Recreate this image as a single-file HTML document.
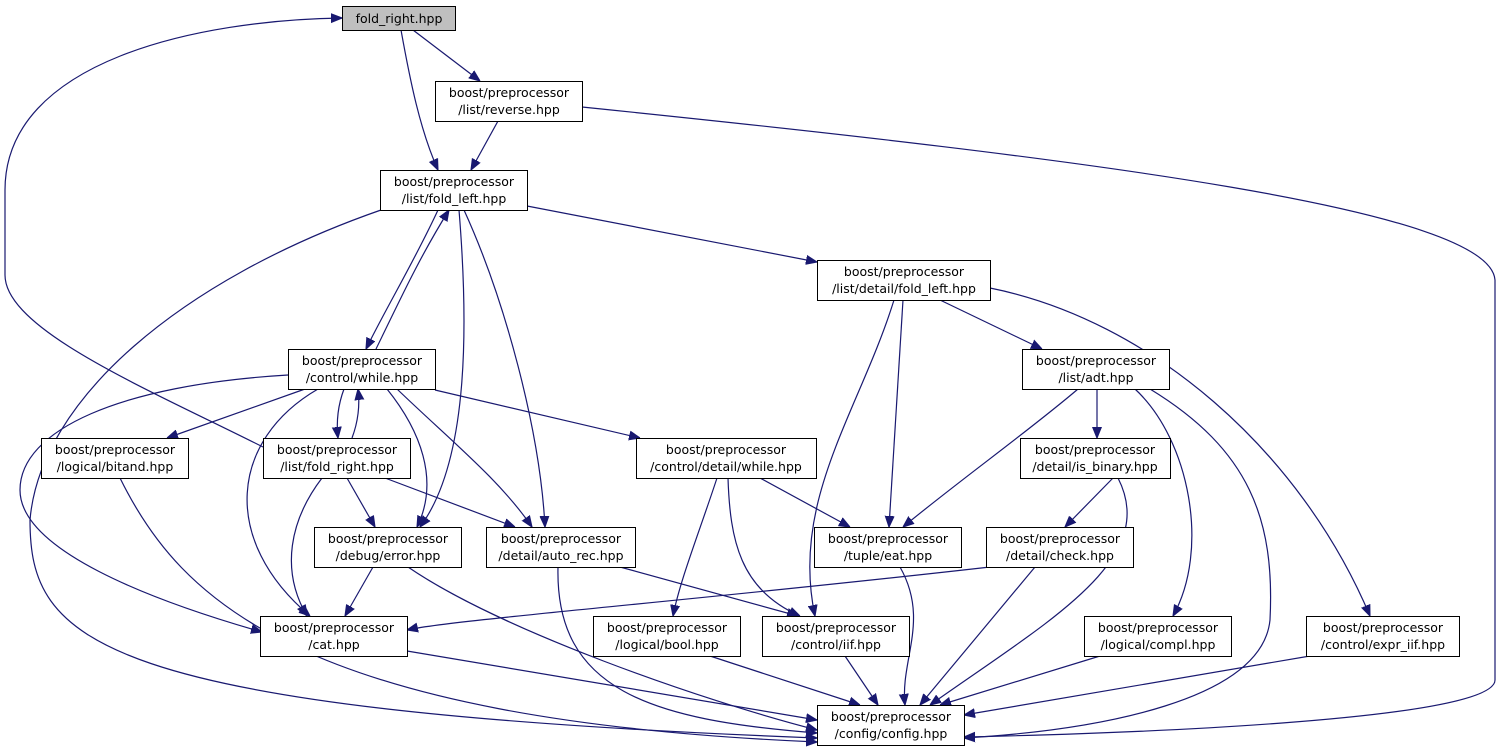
<!DOCTYPE html>
<html><head><meta charset="utf-8"><style>
html,body{margin:0;padding:0;background:#fff;width:1504px;height:752px;overflow:hidden}
svg text{font-family:"DejaVu Sans","Liberation Sans",sans-serif;font-size:12.5px;fill:#000}
</style></head><body>
<svg width="1504" height="752" viewBox="0 0 1504 752" xmlns="http://www.w3.org/2000/svg">
<defs><marker id="a" viewBox="0 0 10 10" refX="10" refY="5" markerWidth="11" markerHeight="11" markerUnits="userSpaceOnUse" orient="auto"><path d="M0,1 L10,5 L0,9 z" fill="#191970" stroke="#191970"/></marker></defs>
<g fill="none" stroke="#191970" stroke-width="1.2" marker-end="url(#a)">
<path d="M413,30 L480,81"/>
<path d="M401,30 C410,80 420,130 438,170"/>
<path d="M498,121 L471,170"/>
<path d="M582,107 C1100,160 1490,210 1495,280 L1495,680 C1495,722 1100,734 964,737"/>
<path d="M527,206 L817,262"/>
<path d="M381,210 C180,280 40,400 30,520 C30,640 90,710 817,738"/>
<path d="M438,210 C415,260 385,310 366,349"/>
<path d="M376,349 C400,300 418,260 449,210"/>
<path d="M459,210 C468,320 470,460 420,527"/>
<path d="M464,210 C505,300 540,430 545,527"/>
<path d="M940,300 L1042,349"/>
<path d="M903,300 L889,527"/>
<path d="M894,300 C860,410 790,500 815,616"/>
<path d="M990,288 C1150,320 1300,450 1370,616"/>
<path d="M305,389 L167,438"/>
<path d="M344,389 C338,405 336,420 338,438"/>
<path d="M352,438 C358,422 360,405 358,389"/>
<path d="M435,390 L640,438"/>
<path d="M387,389 C420,430 440,480 417,527"/>
<path d="M397,389 C450,440 500,480 532,527"/>
<path d="M318,389 C230,440 220,540 310,616"/>
<path d="M288,375 C120,385 20,430 20,490 C20,550 150,600 262,632"/>
<path d="M263,447 C150,390 5,330 5,275 L5,190 C5,60 200,20 342,18"/>
<path d="M347,478 L375,527"/>
<path d="M385,478 L515,527"/>
<path d="M322,478 C290,520 280,570 307,616"/>
<path d="M120,478 C180,600 300,720 817,742"/>
<path d="M717,478 C700,530 680,580 673,616"/>
<path d="M728,478 C730,540 740,590 800,616"/>
<path d="M760,478 L850,527"/>
<path d="M1097,389 L1097,438"/>
<path d="M1078,389 C1030,430 960,480 903,527"/>
<path d="M1135,389 C1190,440 1210,550 1173,616"/>
<path d="M1150,389 C1250,450 1275,520 1270,620 C1262,700 1100,730 964,738"/>
<path d="M1113,478 L1065,527"/>
<path d="M1118,478 C1160,560 1050,620 930,705"/>
<path d="M990,567 C700,600 450,620 407,630"/>
<path d="M1035,567 L920,705"/>
<path d="M373,567 L345,616"/>
<path d="M408,567 C500,630 700,700 817,730"/>
<path d="M620,567 L798,616"/>
<path d="M558,567 C555,690 650,720 817,733"/>
<path d="M900,567 C930,620 900,660 905,705"/>
<path d="M407,651 L817,720"/>
<path d="M710,656 L860,705"/>
<path d="M845,656 L878,705"/>
<path d="M1100,656 L940,705"/>
<path d="M1310,656 L964,715"/>
</g>
<g stroke="#000" stroke-width="1" fill="#fff">
<rect x="342.5" y="6.5" width="113" height="24" fill="#bfbfbf"/>
<rect x="435.5" y="81.5" width="147" height="40"/>
<rect x="380.5" y="170.5" width="147" height="40"/>
<rect x="817.5" y="260.5" width="173" height="40"/>
<rect x="288.5" y="349.5" width="147" height="40"/>
<rect x="1022.5" y="349.5" width="147" height="40"/>
<rect x="41.5" y="438.5" width="147" height="40"/>
<rect x="263.5" y="438.5" width="147" height="40"/>
<rect x="636.5" y="438.5" width="180" height="40"/>
<rect x="1020.5" y="438.5" width="150" height="40"/>
<rect x="314.5" y="527.5" width="147" height="40"/>
<rect x="486.5" y="527.5" width="149" height="40"/>
<rect x="814.5" y="527.5" width="147" height="40"/>
<rect x="986.5" y="527.5" width="147" height="40"/>
<rect x="260.5" y="616.5" width="147" height="40"/>
<rect x="593.5" y="616.5" width="147" height="40"/>
<rect x="762.5" y="616.5" width="147" height="40"/>
<rect x="1084.5" y="616.5" width="147" height="40"/>
<rect x="1306.5" y="616.5" width="153" height="40"/>
<rect x="817.5" y="705.5" width="147" height="40"/>
</g>
<g text-anchor="middle">
<text x="399" y="23">fold_right.hpp</text>
<text x="509" y="97">boost/preprocessor</text><text x="509" y="114">/list/reverse.hpp</text>
<text x="454" y="186">boost/preprocessor</text><text x="454" y="203">/list/fold_left.hpp</text>
<text x="904" y="276">boost/preprocessor</text><text x="904" y="293">/list/detail/fold_left.hpp</text>
<text x="362" y="365">boost/preprocessor</text><text x="362" y="382">/control/while.hpp</text>
<text x="1096" y="365">boost/preprocessor</text><text x="1096" y="382">/list/adt.hpp</text>
<text x="115" y="454">boost/preprocessor</text><text x="115" y="471">/logical/bitand.hpp</text>
<text x="337" y="454">boost/preprocessor</text><text x="337" y="471">/list/fold_right.hpp</text>
<text x="726" y="454">boost/preprocessor</text><text x="726" y="471">/control/detail/while.hpp</text>
<text x="1095" y="454">boost/preprocessor</text><text x="1095" y="471">/detail/is_binary.hpp</text>
<text x="388" y="543">boost/preprocessor</text><text x="388" y="560">/debug/error.hpp</text>
<text x="561" y="543">boost/preprocessor</text><text x="561" y="560">/detail/auto_rec.hpp</text>
<text x="888" y="543">boost/preprocessor</text><text x="888" y="560">/tuple/eat.hpp</text>
<text x="1060" y="543">boost/preprocessor</text><text x="1060" y="560">/detail/check.hpp</text>
<text x="334" y="632">boost/preprocessor</text><text x="334" y="649">/cat.hpp</text>
<text x="667" y="632">boost/preprocessor</text><text x="667" y="649">/logical/bool.hpp</text>
<text x="836" y="632">boost/preprocessor</text><text x="836" y="649">/control/iif.hpp</text>
<text x="1158" y="632">boost/preprocessor</text><text x="1158" y="649">/logical/compl.hpp</text>
<text x="1383" y="632">boost/preprocessor</text><text x="1383" y="649">/control/expr_iif.hpp</text>
<text x="891" y="721">boost/preprocessor</text><text x="891" y="738">/config/config.hpp</text>
</g>
</svg>
</body></html>
